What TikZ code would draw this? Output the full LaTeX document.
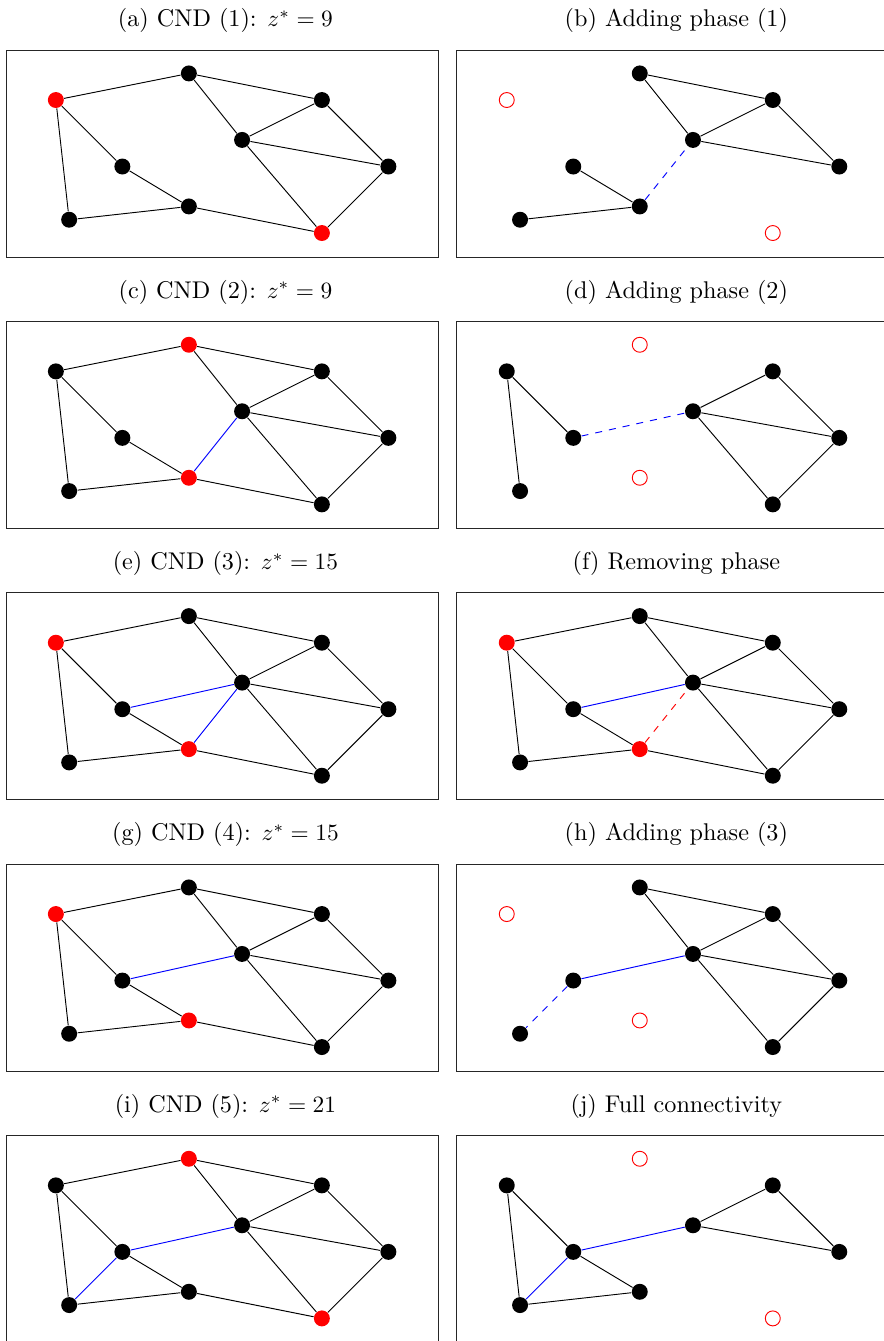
\documentclass[tikz,border=0pt]{standalone}

\tikzset{
    vtx/.style={circle, fill=black, inner sep=0pt, minimum size=0.24cm},
    cut/.style={circle, fill=red, inner sep=0pt, minimum size=0.24cm},
    gone/.style={circle, draw=red, inner sep=0pt, minimum size=0.225cm},
    added/.style={blue},
    trial/.style={blue, dashed},
    dropped/.style={red, dashed},
    frame/.style={draw=black!85},
    caption/.style={font=\fontsize{10.35}{12.4}\selectfont},
}

\begin{document}
\begin{tikzpicture}[x=1cm, y=1cm]
    \useasboundingbox (0.16, -16.66) rectangle (13.44, 3.504);

    % row 1
    \begin{scope}[shift={(0, 0)}]
        \draw[frame] (0.25, -0.36) rectangle (6.75, 2.75);
        \node[caption] (capa) at (3.55, 3.19) {(a) CND (1): $z^* = 9$};
        \foreach \i/\x/\y/\s in {1/1/2/cut, 2/3/2.4/vtx, 3/2/1/vtx, 4/1.2/0.2/vtx, 5/3/0.4/vtx, 6/3.8/1.4/vtx, 7/5/2/vtx, 8/6/1/vtx, 9/5/0/cut}
            \node[\s] (a\i) at (\x, \y) {};
        \foreach \u/\v in {1/2, 1/3, 1/4, 3/5, 4/5, 2/6, 2/7, 6/7, 6/8, 7/8, 6/9, 8/9, 5/9}
            \draw (a\u) -- (a\v);
    \end{scope}
    \begin{scope}[shift={(6.78, 0)}]
        \draw[frame] (0.25, -0.36) rectangle (6.75, 2.75);
        \node[caption] (capb) at (3.55, 3.19) {(b) Adding phase (1)};
        \foreach \i/\x/\y/\s in {1/1/2/gone, 2/3/2.4/vtx, 3/2/1/vtx, 4/1.2/0.2/vtx, 5/3/0.4/vtx, 6/3.8/1.4/vtx, 7/5/2/vtx, 8/6/1/vtx, 9/5/0/gone}
            \node[\s] (b\i) at (\x, \y) {};
        \foreach \u/\v in {3/5, 4/5, 2/6, 2/7, 6/7, 6/8, 7/8}
            \draw (b\u) -- (b\v);
        \draw[trial] (b5) -- (b6); % 5 -- 6
    \end{scope}

    % row 2
    \begin{scope}[shift={(0, -4.08)}]
        \draw[frame] (0.25, -0.36) rectangle (6.75, 2.75);
        \node[caption] (capc) at (3.55, 3.19) {(c) CND (2): $z^* = 9$};
        \foreach \i/\x/\y/\s in {1/1/2/vtx, 2/3/2.4/cut, 3/2/1/vtx, 4/1.2/0.2/vtx, 5/3/0.4/cut, 6/3.8/1.4/vtx, 7/5/2/vtx, 8/6/1/vtx, 9/5/0/vtx}
            \node[\s] (c\i) at (\x, \y) {};
        \foreach \u/\v in {1/2, 1/3, 1/4, 3/5, 4/5, 2/6, 2/7, 6/7, 6/8, 7/8, 6/9, 8/9, 5/9}
            \draw (c\u) -- (c\v);
        \draw[added] (c5) -- (c6); % 5 -- 6
    \end{scope}
    \begin{scope}[shift={(6.78, -4.08)}]
        \draw[frame] (0.25, -0.36) rectangle (6.75, 2.75);
        \node[caption] (capd) at (3.55, 3.19) {(d) Adding phase (2)};
        \foreach \i/\x/\y/\s in {1/1/2/vtx, 2/3/2.4/gone, 3/2/1/vtx, 4/1.2/0.2/vtx, 5/3/0.4/gone, 6/3.8/1.4/vtx, 7/5/2/vtx, 8/6/1/vtx, 9/5/0/vtx}
            \node[\s] (d\i) at (\x, \y) {};
        \foreach \u/\v in {1/3, 1/4, 6/7, 6/8, 7/8, 6/9, 8/9}
            \draw (d\u) -- (d\v);
        \draw[trial] (d3) -- (d6); % 3 -- 6
    \end{scope}

    % row 3
    \begin{scope}[shift={(0, -8.16)}]
        \draw[frame] (0.25, -0.36) rectangle (6.75, 2.75);
        \node[caption] (cape) at (3.55, 3.19) {(e) CND (3): $z^* = 15$};
        \foreach \i/\x/\y/\s in {1/1/2/cut, 2/3/2.4/vtx, 3/2/1/vtx, 4/1.2/0.2/vtx, 5/3/0.4/cut, 6/3.8/1.4/vtx, 7/5/2/vtx, 8/6/1/vtx, 9/5/0/vtx}
            \node[\s] (e\i) at (\x, \y) {};
        \foreach \u/\v in {1/2, 1/3, 1/4, 3/5, 4/5, 2/6, 2/7, 6/7, 6/8, 7/8, 6/9, 8/9, 5/9}
            \draw (e\u) -- (e\v);
        \draw[added] (e5) -- (e6); % 5 -- 6
        \draw[added] (e3) -- (e6); % 3 -- 6
    \end{scope}
    \begin{scope}[shift={(6.78, -8.16)}]
        \draw[frame] (0.25, -0.36) rectangle (6.75, 2.75);
        \node[caption] (capf) at (3.55, 3.19) {(f) Removing phase};
        \foreach \i/\x/\y/\s in {1/1/2/cut, 2/3/2.4/vtx, 3/2/1/vtx, 4/1.2/0.2/vtx, 5/3/0.4/cut, 6/3.8/1.4/vtx, 7/5/2/vtx, 8/6/1/vtx, 9/5/0/vtx}
            \node[\s] (f\i) at (\x, \y) {};
        \foreach \u/\v in {1/2, 1/3, 1/4, 3/5, 4/5, 2/6, 2/7, 6/7, 6/8, 7/8, 6/9, 8/9, 5/9}
            \draw (f\u) -- (f\v);
        \draw[dropped] (f5) -- (f6); % 5 -- 6
        \draw[added] (f3) -- (f6);   % 3 -- 6
    \end{scope}

    % row 4
    \begin{scope}[shift={(0, -12.24)}]
        \draw[frame] (0.25, -0.36) rectangle (6.75, 2.75);
        \node[caption] (capg) at (3.55, 3.19) {(g) CND (4): $z^* = 15$};
        \foreach \i/\x/\y/\s in {1/1/2/cut, 2/3/2.4/vtx, 3/2/1/vtx, 4/1.2/0.2/vtx, 5/3/0.4/cut, 6/3.8/1.4/vtx, 7/5/2/vtx, 8/6/1/vtx, 9/5/0/vtx}
            \node[\s] (g\i) at (\x, \y) {};
        \foreach \u/\v in {1/2, 1/3, 1/4, 3/5, 4/5, 2/6, 2/7, 6/7, 6/8, 7/8, 6/9, 8/9, 5/9}
            \draw (g\u) -- (g\v);
        \draw[added] (g3) -- (g6); % 3 -- 6
    \end{scope}
    \begin{scope}[shift={(6.78, -12.24)}]
        \draw[frame] (0.25, -0.36) rectangle (6.75, 2.75);
        \node[caption] (caph) at (3.55, 3.19) {(h) Adding phase (3)};
        \foreach \i/\x/\y/\s in {1/1/2/gone, 2/3/2.4/vtx, 3/2/1/vtx, 4/1.2/0.2/vtx, 5/3/0.4/gone, 6/3.8/1.4/vtx, 7/5/2/vtx, 8/6/1/vtx, 9/5/0/vtx}
            \node[\s] (h\i) at (\x, \y) {};
        \foreach \u/\v in {2/6, 2/7, 6/7, 6/8, 7/8, 6/9, 8/9}
            \draw (h\u) -- (h\v);
        \draw[added] (h3) -- (h6); % 3 -- 6
        \draw[trial] (h3) -- (h4); % 3 -- 4
    \end{scope}

    % row 5
    \begin{scope}[shift={(0, -16.32)}]
        \draw[frame] (0.25, -0.36) rectangle (6.75, 2.75);
        \node[caption] (capi) at (3.55, 3.19) {(i) CND (5): $z^* = 21$};
        \foreach \i/\x/\y/\s in {1/1/2/vtx, 2/3/2.4/cut, 3/2/1/vtx, 4/1.2/0.2/vtx, 5/3/0.4/vtx, 6/3.8/1.4/vtx, 7/5/2/vtx, 8/6/1/vtx, 9/5/0/cut}
            \node[\s] (i\i) at (\x, \y) {};
        \foreach \u/\v in {1/2, 1/3, 1/4, 3/5, 4/5, 2/6, 2/7, 6/7, 6/8, 7/8, 6/9, 8/9, 5/9}
            \draw (i\u) -- (i\v);
        \draw[added] (i3) -- (i6); % 3 -- 6
        \draw[added] (i3) -- (i4); % 3 -- 4
    \end{scope}
    \begin{scope}[shift={(6.78, -16.32)}]
        \draw[frame] (0.25, -0.36) rectangle (6.75, 2.75);
        \node[caption] (capj) at (3.55, 3.19) {(j) Full connectivity};
        \foreach \i/\x/\y/\s in {1/1/2/vtx, 2/3/2.4/gone, 3/2/1/vtx, 4/1.2/0.2/vtx, 5/3/0.4/vtx, 6/3.8/1.4/vtx, 7/5/2/vtx, 8/6/1/vtx, 9/5/0/gone}
            \node[\s] (j\i) at (\x, \y) {};
        \foreach \u/\v in {1/3, 1/4, 3/5, 4/5, 6/7, 6/8, 7/8}
            \draw (j\u) -- (j\v);
        \draw[added] (j3) -- (j6); % 3 -- 6
        \draw[added] (j3) -- (j4); % 3 -- 4
    \end{scope}
\end{tikzpicture}
\end{document}
